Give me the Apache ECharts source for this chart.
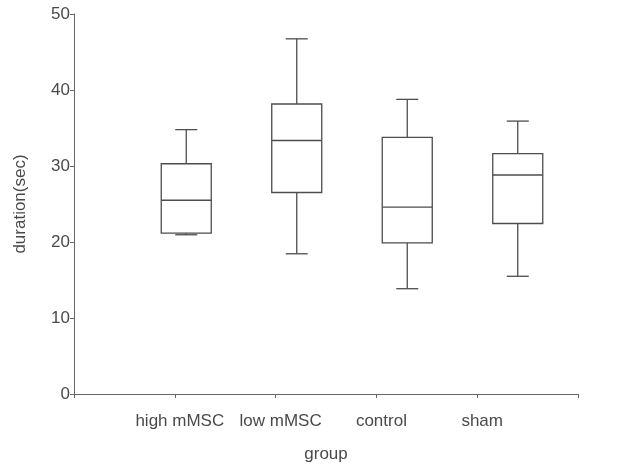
<!DOCTYPE html>
<html>
<head>
<meta charset="utf-8">
<script src="https://cdn.jsdelivr.net/npm/echarts@6/dist/echarts.min.js"></script>
<style>html,body{margin:0;padding:0;background:#fff}#c{width:633px;height:468px}</style>
</head>
<body>
<div id="c"></div>
<script>
var categories = ['high mMSC', 'low mMSC', 'control', 'sham'];
var whiskerLow = [21.55, 19.1, 14.6, 16.2];
var q1 = [21.75, 27.0, 20.5, 23.0];
var median = [26.0, 33.7, 25.1, 29.25];
var q3 = [30.7, 38.4, 34.1, 32.0];
var whiskerHigh = [35.1, 46.8, 39.0, 36.2];
var yTicks = [0, 10, 20, 30, 40, 50];

var boxData = categories.map(function (c, i) {
  return [i, whiskerLow[i], q1[i], median[i], q3[i], whiskerHigh[i]];
});

var FONT = 'Liberation Sans';
var TXT = '#4a4a4a';
var LINE = '#4d4d4d';
var AXIS = '#666';

function renderBox(params, api) {
  var x = api.value(0);
  var pLow = api.coord([x, api.value(1)]);
  var pQ1 = api.coord([x, api.value(2)]);
  var pMed = api.coord([x, api.value(3)]);
  var pQ3 = api.coord([x, api.value(4)]);
  var pHigh = api.coord([x, api.value(5)]);
  var cx = pMed[0];
  var hw = 25, cw = 11;
  var st = {stroke: LINE, lineWidth: 1.3, fill: null};
  return {
    type: 'group',
    children: [
      {type: 'rect', shape: {x: cx - hw, y: pQ3[1], width: hw * 2, height: pQ1[1] - pQ3[1]}, style: {stroke: LINE, lineWidth: 1.3, fill: '#fff'}},
      {type: 'line', shape: {x1: cx - hw, y1: pMed[1], x2: cx + hw, y2: pMed[1]}, style: st},
      {type: 'line', shape: {x1: cx, y1: pQ3[1], x2: cx, y2: pHigh[1]}, style: st},
      {type: 'line', shape: {x1: cx, y1: pQ1[1], x2: cx, y2: pLow[1]}, style: st},
      {type: 'line', shape: {x1: cx - cw, y1: pHigh[1], x2: cx + cw, y2: pHigh[1]}, style: st},
      {type: 'line', shape: {x1: cx - cw, y1: pLow[1], x2: cx + cw, y2: pLow[1]}, style: st}
    ]
  };
}

var chart = echarts.init(document.getElementById('c'), null, {renderer: 'canvas'});
chart.setOption({
  animation: false,
  backgroundColor: '#fff',
  textStyle: {fontFamily: FONT},
  grid: [
    {left: 74, right: 55, top: 14, bottom: 66},
    {left: 131, width: 442, top: 14, bottom: 66}
  ],
  xAxis: [
    {
      gridIndex: 0, type: 'value', min: 0, max: 5, interval: 1,
      name: 'group', nameLocation: 'middle', nameGap: 52,
      nameTextStyle: {fontFamily: FONT, fontSize: 17, color: TXT},
      axisLine: {show: true, lineStyle: {color: AXIS, width: 1}},
      axisTick: {show: true, length: 4, lineStyle: {color: AXIS}},
      axisLabel: {
        show: true, margin: 19, fontFamily: FONT, fontSize: 17, color: TXT,
        padding: [0, 0, 0, 10],
        formatter: function (v) { return categories[v - 1] || ''; }
      },
      splitLine: {show: false}
    },
    {
      gridIndex: 1, type: 'category', data: categories, boundaryGap: true,
      show: false
    }
  ],
  yAxis: [
    {
      gridIndex: 0, type: 'value', min: 0, max: 50, interval: 10,
      name: 'duration(sec)', nameLocation: 'middle', nameGap: 45,
      nameTextStyle: {fontFamily: FONT, fontSize: 17, color: TXT},
      axisLine: {show: true, lineStyle: {color: AXIS, width: 1}},
      axisTick: {show: true, length: 4, lineStyle: {color: AXIS}},
      axisLabel: {
        show: true, margin: 4, fontFamily: FONT, fontSize: 17, color: TXT,
        formatter: function (v) { return yTicks.indexOf(v) >= 0 ? String(v) : ''; }
      },
      splitLine: {show: false}
    },
    {
      gridIndex: 1, type: 'value', min: 0, max: 50, show: false
    }
  ],
  series: [
    {
      type: 'custom',
      xAxisIndex: 1, yAxisIndex: 1,
      renderItem: renderBox,
      encode: {x: 0, y: [1, 2, 3, 4, 5]},
      data: boxData
    }
  ]
});
</script>
</body>
</html>
